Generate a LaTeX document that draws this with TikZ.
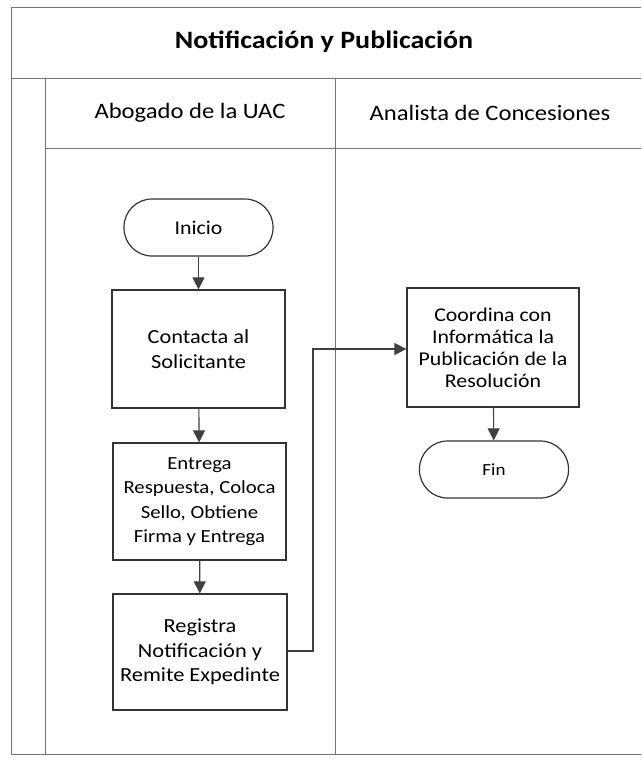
\documentclass[tikz,border=0pt]{standalone}
\usepackage{fontspec}
\setmainfont{Carlito}[FakeStretch=1.12]
\usetikzlibrary{arrows.meta}
\definecolor{lanegray}{gray}{0.45}
\definecolor{boxline}{gray}{0.2}
\definecolor{arrowgray}{gray}{0.25}
\tikzset{
  lane/.style={draw=lanegray, line width=1pt},
  procbox/.style={draw=boxline, line width=1.2pt, rectangle, align=center, inner sep=2pt,
    font=\fontsize{20}{25}\selectfont},
  pill/.style={draw=boxline, line width=1.2pt, rectangle, rounded corners=28pt, align=center,
    minimum width=149pt, minimum height=57pt, font=\fontsize{19.5}{23}\selectfont},
  flow/.style={draw=arrowgray, line width=1.1pt, -{Triangle[width=12pt,length=12pt]}},
  headtext/.style={font=\fontsize{22}{26}\selectfont},
}
\begin{document}
\begin{tikzpicture}[x=1pt,y=-1pt]
\useasboundingbox (0,0) rectangle (641,761);
\fill[white] (0,0) rectangle (641,761);
% frame
\draw[lane] (641,7) -- (11,7) -- (11,754) -- (641,754);
\draw[lane] (11,78) -- (641,78);
\draw[lane] (45,78) -- (45,754);
\draw[lane] (45,148) -- (641,148);
\draw[lane] (335,78) -- (335,754);
% titles
\node[font=\fontsize{25}{29}\bfseries] (title) at (324,42) {Notificación y Publicación};
\node[headtext] (lane1) at (190,113) {Abogado de la UAC};
\node[headtext] (lane2) at (490,113) {Analista de Concesiones};
% nodes
\node[pill] (inicio) at (198.5,227.5) {Inicio};
\node[procbox, minimum width=173pt, minimum height=118pt] (contacta) at (198.5,349) {Contacta al\\Solicitante};
\node[procbox, minimum width=173pt, minimum height=117pt, font=\fontsize{18.5}{24.5}\selectfont] (entrega) at (199.5,501.5) {Entrega\\Respuesta, Coloca\\Sello, Obtiene\\Firma y Entrega};
\node[procbox, minimum width=174pt, minimum height=116pt, font=\fontsize{20}{24.5}\selectfont] (registra) at (200,652) {Registra\\Notificación y\\Remite Expedinte};
\node[procbox, minimum width=172pt, minimum height=119pt, font=\fontsize{19.5}{22}\selectfont] (coordina) at (493,347.5) {Coordina con\\Informática la\\Publicación de la\\Resolución};
\node[pill, font=\fontsize{17}{20}\selectfont] (fin) at (494,469.5) {Fin};
% connectors
\coordinate (bend1) at (313,651);
\coordinate (bend2) at (313,349);
\draw[flow] (inicio) -- (contacta);
\draw[flow] (contacta) -- (entrega);
\draw[flow] (entrega) -- (registra);
\draw[flow] (registra.east |- bend1) -- (bend1) -- (bend2) -- (coordina.west |- bend2);
\draw[flow] (coordina) -- (fin);
\end{tikzpicture}
\end{document}
